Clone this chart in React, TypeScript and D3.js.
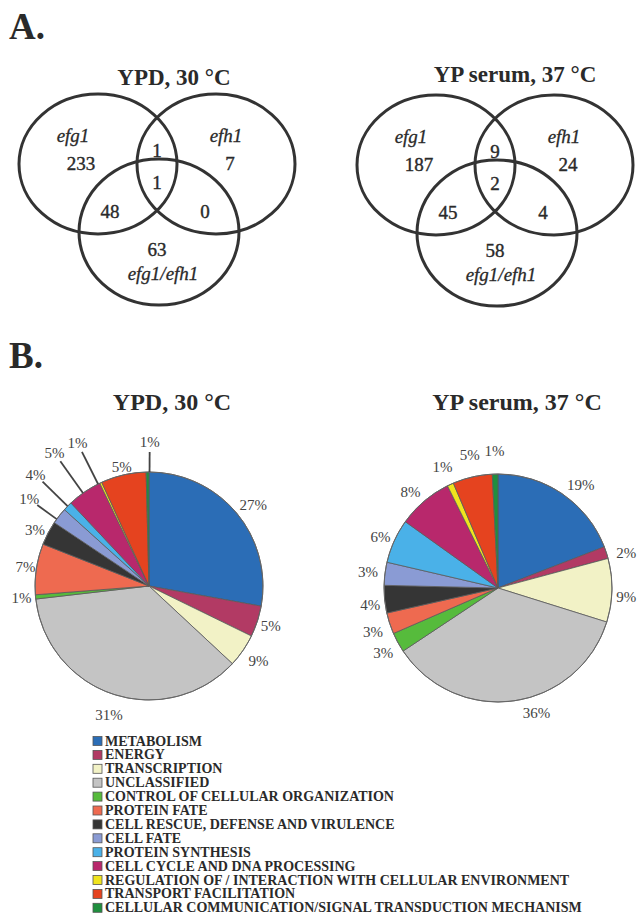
import React from 'react';
import * as d3 from 'd3';

// ---------- data ----------
const categories = [
  'METABOLISM',
  'ENERGY',
  'TRANSCRIPTION',
  'UNCLASSIFIED',
  'CONTROL OF CELLULAR ORGANIZATION',
  'PROTEIN FATE',
  'CELL RESCUE, DEFENSE AND VIRULENCE',
  'CELL FATE',
  'PROTEIN SYNTHESIS',
  'CELL CYCLE AND DNA PROCESSING',
  'REGULATION OF / INTERACTION WITH CELLULAR ENVIRONMENT',
  'TRANSPORT FACILITATION',
  'CELLULAR COMMUNICATION/SIGNAL TRANSDUCTION MECHANISM',
];
const categoryColors = [
  '#2b6db6', '#b23a64', '#f2f2c6', '#c4c4c4', '#56bb3c', '#ee6a50', '#353535',
  '#8a9bd4', '#4ab1e8', '#b8286c', '#f0e41e', '#e5431f', '#1f8f3e',
];
// slice sizes as drawn (percent of genes)
const ypdShares = [27.8, 4.4, 4.7, 36.2, 0.6, 7.2, 3.4, 2.3, 1.3, 4.9, 0.3, 6.4, 0.4];
const ypdLabels = ['27%', '5%', '9%', '31%', '1%', '7%', '3%', '1%', '4%', '5%', '1%', '5%', '1%'];
const serumShares = [19.1, 1.7, 9.0, 35.8, 2.8, 3.0, 3.9, 3.25, 6.25, 7.8, 0.9, 5.6, 0.8];
const serumLabels = ['19%', '2%', '9%', '36%', '3%', '3%', '4%', '3%', '6%', '8%', '1%', '5%', '1%'];

const conditions = ['YPD, 30 °C', 'YP serum, 37 °C'];
const vennSetNames = ['efg1', 'efh1', 'efg1/efh1'];
// regions: efg1 only, efh1 only, efg1/efh1 only, efg1∩efh1, efg1∩double, efh1∩double, all three
const ypdVenn = [233, 7, 63, 1, 48, 0, 1];
const serumVenn = [187, 24, 58, 9, 45, 4, 2];

// ---------- layout ----------
const W = 638;
const H = 916;
const FONT = "'Liberation Serif', 'Times New Roman', 'DejaVu Serif', serif";
const INK = '#2a2a2a';

// label placement per slice: [angle shift in degrees, distance from centre]
const ypdLabelPos: [number, number][] = [
  [2, 132], [0, 128], [0, 133], [-1, 135], [0, 128], [0, 125], [-1.5, 127],
  [-2, 148], [0, 159], [-1, 163], [-1.5, 160], [0, 122], [1, 144],
];
const ypdLeaders = [7, 8, 9, 10, 12];
const serumLabelPos: [number, number][] = [
  [4.4, 132], [2.7, 133], [3, 128.5], [-9, 131], [-1, 132], [-1.4, 132.5], [-2, 129],
  [0, 131], [-1, 128], [-2, 130], [0, 133], [1, 136], [0, 137],
];

type VennProps = { cx: number; cy: number; counts: number[]; title: string; titleX: number; titleY: number };

function Venn({ cx, cy, counts, title, titleX, titleY }: VennProps) {
  const circles = [
    { x: 0, y: 0, rx: 79, ry: 70 },
    { x: 118, y: 0, rx: 79, ry: 70 },
    { x: 61, y: 68, rx: 80, ry: 73 },
  ];
  const nameAt = [
    { x: -25, y: -29 },
    { x: 128, y: -29 },
    { x: 65, y: 109 },
  ];
  const countAt = [
    { x: -17, y: -1 },
    { x: 132, y: -1 },
    { x: 59, y: 85 },
    { x: 59, y: -14 },
    { x: 12, y: 47 },
    { x: 107, y: 47 },
    { x: 59, y: 18 },
  ];
  return (
    <g>
      <text x={titleX} y={titleY} textAnchor="middle" fontFamily={FONT} fontWeight="bold" fontSize={23} fill={INK}>
        {title}
      </text>
      <g transform={`translate(${cx},${cy})`}>
        {circles.map((c, i) => (
          <ellipse key={i} cx={c.x} cy={c.y} rx={c.rx} ry={c.ry} fill="none" stroke="#333" strokeWidth={3} />
        ))}
        {vennSetNames.map((n, i) => (
          <text key={n} x={nameAt[i].x} y={nameAt[i].y} textAnchor="middle" dominantBaseline="central"
            fontFamily={FONT} fontStyle="italic" fontSize={19} fill={INK} stroke={INK} strokeWidth={0.3}>{n}</text>
        ))}
        {counts.map((v, i) => (
          <text key={i} x={countAt[i].x} y={countAt[i].y} textAnchor="middle" dominantBaseline="central"
            fontFamily={FONT} fontSize={19} fill={INK} stroke={INK} strokeWidth={0.4}>{v}</text>
        ))}
      </g>
    </g>
  );
}

type PieProps = {
  cx: number; cy: number; r: number; shares: number[]; labels: string[];
  labelPos: [number, number][]; leaders: number[]; title: string; titleX: number; titleY: number;
};

function Pie({ cx, cy, r, shares, labels, labelPos, leaders, title, titleX, titleY }: PieProps) {
  const pie = d3.pie<number>().sort(null).value((d) => d);
  const arcs = pie(shares);
  const arc = d3.arc<d3.PieArcDatum<number>>().innerRadius(0).outerRadius(r);
  const polar = (a: number, d: number) => [d * Math.sin(a), -d * Math.cos(a)];
  return (
    <g>
      <text x={titleX} y={titleY} textAnchor="middle" fontFamily={FONT} fontWeight="bold" fontSize={24} fill={INK}>
        {title}
      </text>
      <g transform={`translate(${cx},${cy})`}>
        {arcs.map((a, i) => (
          <path key={i} d={arc(a) || ''} fill={categoryColors[i]} stroke="#5a5a5a" strokeWidth={0.8} />
        ))}
        <circle r={r} fill="none" stroke="#666" strokeWidth={1} />
        {arcs.map((a, i) => {
          const mid = (a.startAngle + a.endAngle) / 2 + (labelPos[i][0] * Math.PI) / 180;
          const [lx, ly] = polar(mid, labelPos[i][1]);
          const hasLeader = leaders.includes(i);
          const [x1, y1] = polar(mid, labelPos[i][1] - 10);
          const [x2, y2] = polar(mid, r);
          return (
            <g key={i}>
              {hasLeader && <line x1={x1} y1={y1} x2={x2} y2={y2} stroke="#444" strokeWidth={1.8} />}
              <text x={lx} y={ly} textAnchor="middle" dominantBaseline="central" fontFamily={FONT}
                fontSize={15} fill="#444">{labels[i]}</text>
            </g>
          );
        })}
      </g>
    </g>
  );
}

export default function App() {
  const legendX = 93;
  const legendY = 741;
  const legendStep = 13.9;
  return (
    <svg width={W} height={H} viewBox={`0 0 ${W} ${H}`}
      style={{ position: 'absolute', left: 0, top: 0, background: '#fff' }}>
      <rect width={W} height={H} fill="#fff" />
      <text x={9} y={39} fontFamily={FONT} fontWeight="bold" fontSize={37} fill={INK}>A.</text>
      <text x={9} y={368} fontFamily={FONT} fontWeight="bold" fontSize={37} fill={INK}>B.</text>

      <Venn cx={98} cy={164} counts={ypdVenn} title={conditions[0]} titleX={174} titleY={85} />
      <Venn cx={436} cy={165} counts={serumVenn} title={conditions[1]} titleX={515} titleY={82} />

      <Pie cx={149} cy={586} r={114} shares={ypdShares} labels={ypdLabels} labelPos={ypdLabelPos}
        leaders={ypdLeaders} title={conditions[0]} titleX={172} titleY={410} />
      <Pie cx={498} cy={588} r={114} shares={serumShares} labels={serumLabels} labelPos={serumLabelPos}
        leaders={[]} title={conditions[1]} titleX={517} titleY={410} />

      <g>
        {categories.map((c, i) => (
          <g key={c} transform={`translate(${legendX},${legendY + i * legendStep})`}>
            <rect x={0} y={-4.5} width={9} height={9} fill={categoryColors[i]} stroke="#555" strokeWidth={0.8} />
            <text x={12} y={0} dominantBaseline="central" fontFamily={FONT} fontWeight="bold" fontSize={14}
              fill={INK}>{c}</text>
          </g>
        ))}
      </g>
    </svg>
  );
}
